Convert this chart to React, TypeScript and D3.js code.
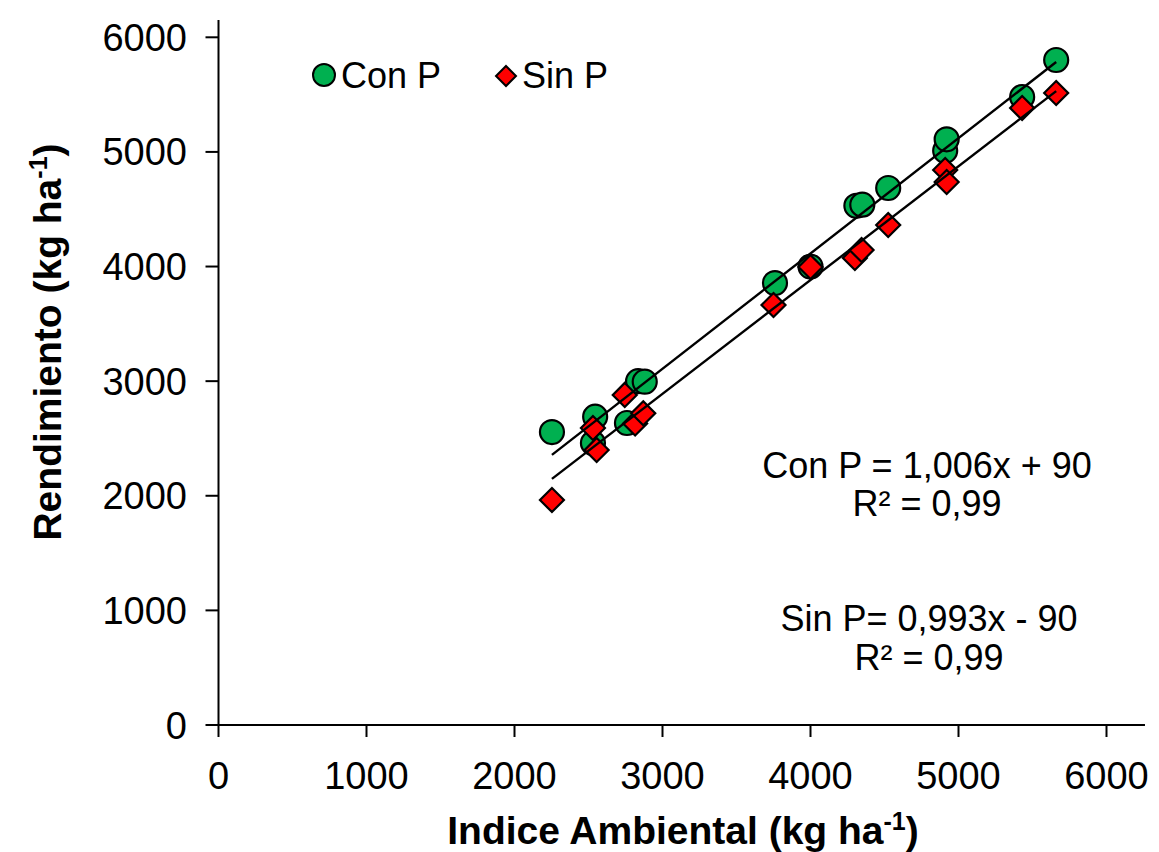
import React from "react";
import * as d3 from "d3";

const indexCon = [2253, 2530, 2545, 2760, 2835, 2880, 3760, 4000, 4310, 4350, 4525, 4910, 4920, 5430, 5660];
const yieldCon = [2556, 2460, 2690, 2635, 3000, 2995, 3856, 4000, 4530, 4540, 4685, 5010, 5110, 5479, 5802];
const indexSin = [2253, 2530, 2555, 2745, 2815, 2870, 3750, 4000, 4300, 4345, 4525, 4910, 4920, 5430, 5660];
const yieldSin = [1963, 2591, 2400, 2880, 2630, 2720, 3664, 3996, 4074, 4144, 4362, 4842, 4737, 5383, 5514];
const xTicks = [0, 1000, 2000, 3000, 4000, 5000, 6000];
const yTicks = [0, 1000, 2000, 3000, 4000, 5000, 6000];
const fitCon = { slope: 1.006, intercept: 90, x0: 2253, x1: 5660 };
const fitSin = { slope: 0.993, intercept: -90, x0: 2253, x1: 5660 };

const W = 1159, H = 852;
const FONT = "'Liberation Sans', Arial, sans-serif";

export default function App() {
  const x = d3.scaleLinear().domain([0, 6000]).range([218.5, 1106.5]);
  const y = d3.scaleLinear().domain([0, 6000]).range([725, 37.3]);
  const xEnd = x(6260);
  const yTop = y(6150);
  const fitPath = (f: typeof fitCon) =>
    d3.line<number>().x((v) => x(v)).y((v) => y(f.slope * v + f.intercept))([f.x0, f.x1]) || "";
  const diamond = (cx: number, cy: number, r: number) =>
    `M${cx},${cy - r}L${cx + r},${cy}L${cx},${cy + r}L${cx - r},${cy}Z`;
  return (
    <svg width={W} height={H} style={{ position: "absolute", left: 0, top: 0, background: "#fff" }} fontFamily={FONT}>
      <rect width={W} height={H} fill="#fff" />
      {/* markers */}
      {indexCon.map((v, i) => (
        <circle key={"c" + i} cx={x(v)} cy={y(yieldCon[i])} r={12} fill="#00B050" stroke="#000" strokeWidth={2.2} />
      ))}
      {indexSin.map((v, i) => (
        <path key={"s" + i} d={diamond(x(v), y(yieldSin[i]), 12)} fill="#FF0000" stroke="#000" strokeWidth={2.2} />
      ))}
      {/* fit lines */}
      <path d={fitPath(fitCon)} stroke="#000" strokeWidth={2.4} fill="none" />
      <path d={fitPath(fitSin)} stroke="#000" strokeWidth={2.4} fill="none" />
      {/* axes */}
      <line x1={x(0)} x2={xEnd} y1={y(0)} y2={y(0)} stroke="#000" strokeWidth={2} />
      <line x1={x(0)} x2={x(0)} y1={y(0) + 1} y2={yTop} stroke="#000" strokeWidth={2} />
      {xTicks.map((t) => (
        <g key={"xt" + t}>
          <line x1={x(t)} x2={x(t)} y1={y(0)} y2={y(0) + 12} stroke="#000" strokeWidth={2} />
          <text x={x(t)} y={789} textAnchor="middle" fontSize={38}>{t}</text>
        </g>
      ))}
      {yTicks.map((t) => (
        <g key={"yt" + t}>
          <line x1={x(0) - 13} x2={x(0)} y1={y(t)} y2={y(t)} stroke="#000" strokeWidth={2} />
          <text x={187} y={y(t) + 13.5} textAnchor="end" fontSize={38}>{t}</text>
        </g>
      ))}
      {/* axis titles */}
      <text x={683} y={844} textAnchor="middle" fontSize={39} fontWeight="bold">
        Indice Ambiental (kg ha<tspan dy={-14} fontSize={25}>-1</tspan><tspan dy={14}>)</tspan>
      </text>
      <text transform={`translate(61,342) rotate(-90)`} textAnchor="middle" fontSize={39} fontWeight="bold">
        Rendimiento (kg ha<tspan dy={-14} fontSize={25}>-1</tspan><tspan dy={14}>)</tspan>
      </text>
      {/* legend */}
      <circle cx={324} cy={75} r={11} fill="#00B050" stroke="#000" strokeWidth={2} />
      <text x={341} y={88} fontSize={36}>Con P</text>
      <path d={diamond(506, 76, 10)} fill="#FF0000" stroke="#000" strokeWidth={2} />
      <text x={522} y={88} fontSize={36}>Sin P</text>
      {/* equations */}
      <text x={927} y={478} textAnchor="middle" fontSize={36}>Con P = 1,006x + 90</text>
      <text x={927} y={516} textAnchor="middle" fontSize={36}>R² = 0,99</text>
      <text x={929} y={631} textAnchor="middle" fontSize={36}>Sin P= 0,993x - 90</text>
      <text x={929} y={670} textAnchor="middle" fontSize={36}>R² = 0,99</text>
    </svg>
  );
}
